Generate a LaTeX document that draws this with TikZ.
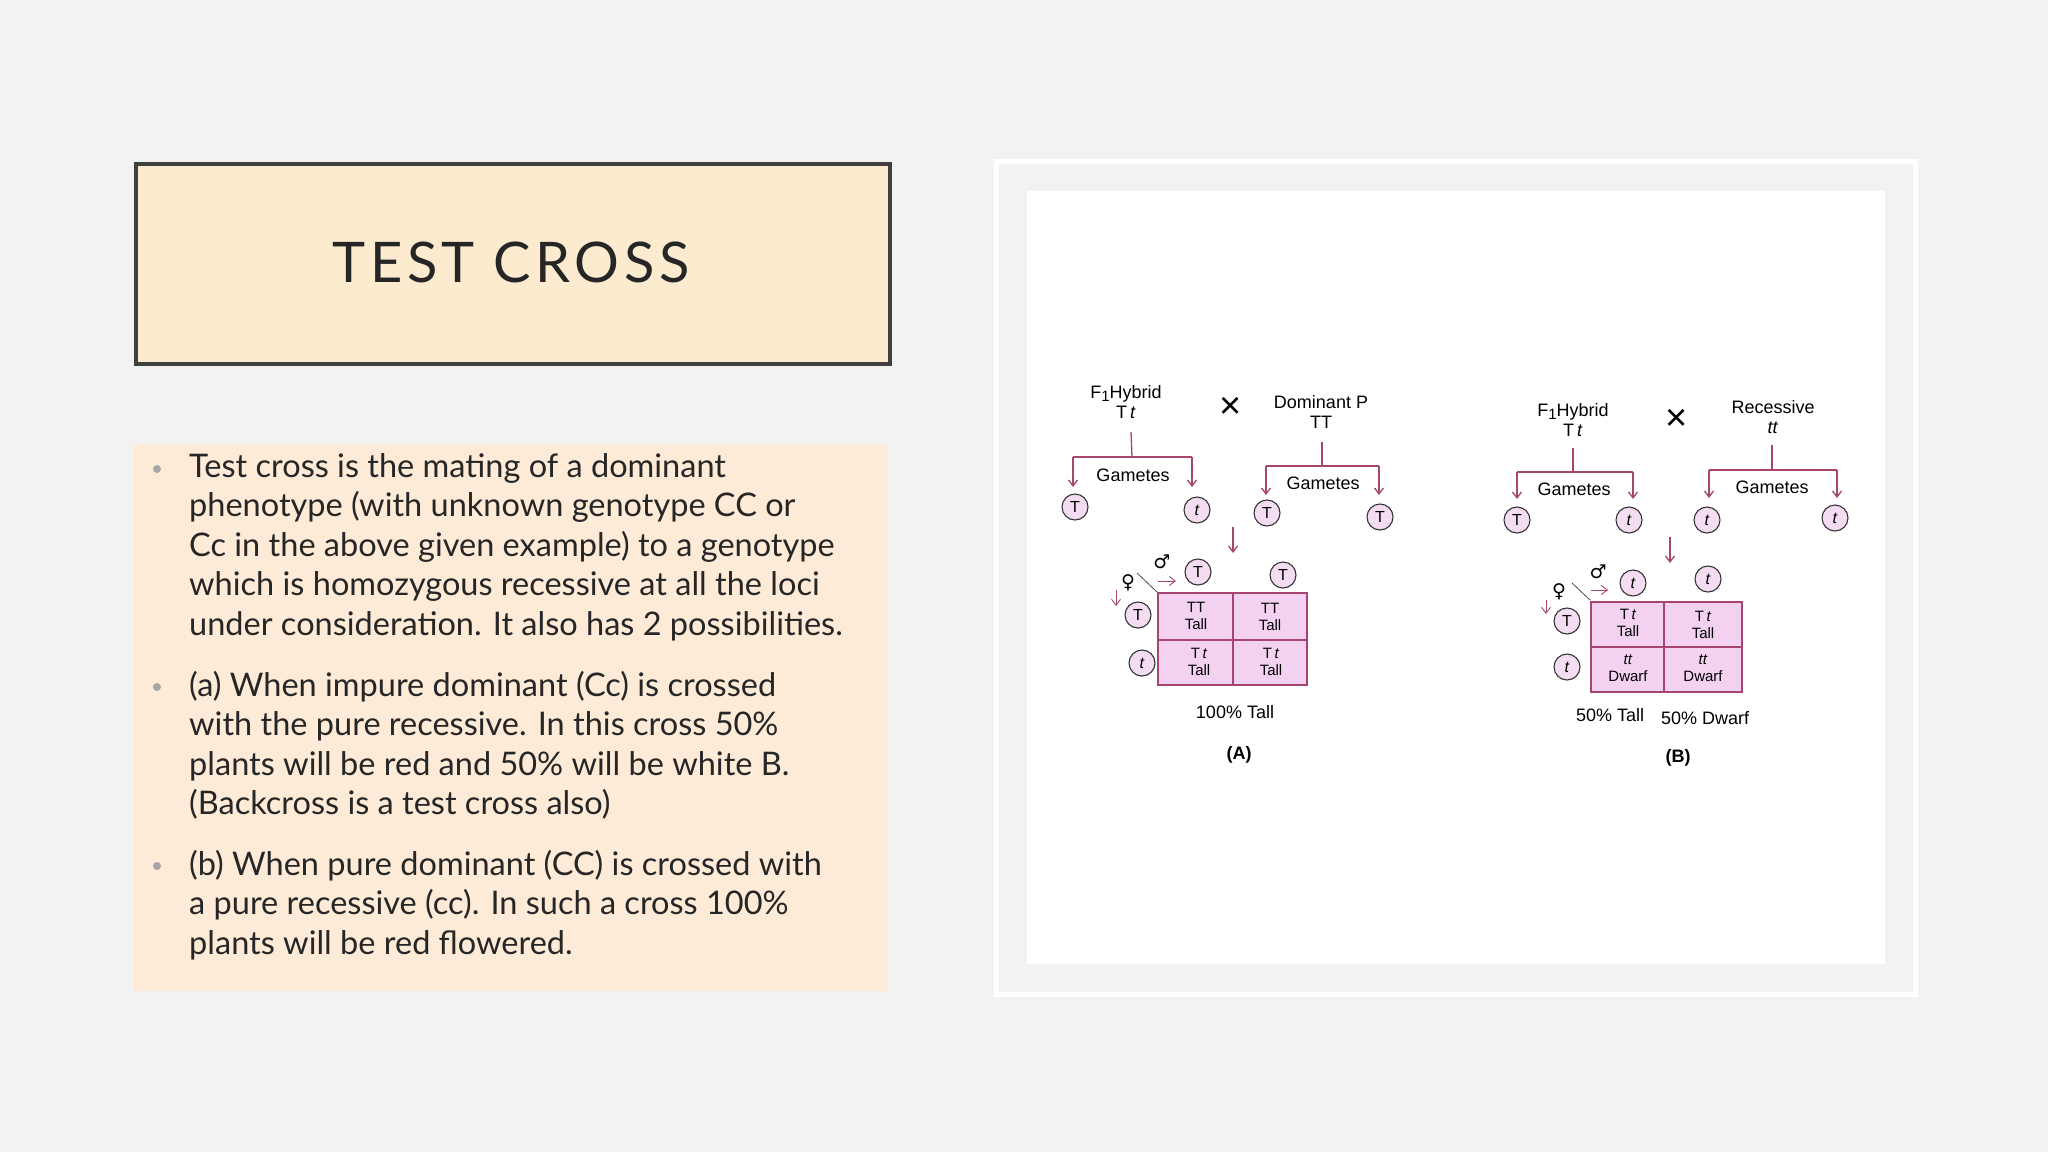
\documentclass[tikz,border=0pt]{standalone}
\usepackage{fontspec}
\setmainfont{Lato}
\newfontfamily\diafont{Liberation Sans}
\newfontfamily\symfont{DejaVu Sans}
\usetikzlibrary{arrows.meta}
\definecolor{bg}{HTML}{F2F2F2}
\definecolor{titlefill}{HTML}{FCEBCF}
\definecolor{textfill}{HTML}{FDEBD8}
\definecolor{mar}{HTML}{A8456F}
\definecolor{cellfill}{HTML}{F2D2F0}
\definecolor{gamfill}{HTML}{F4DDF2}
\tikzset{
  x=1pt,y=-1pt,
  gam/.style={circle,draw=black!80,fill=gamfill,line width=1.1pt,minimum size=26pt,inner sep=0pt,font=\diafont\fontsize{16}{16}\selectfont},
  lnk/.style={draw=mar,line width=1.3pt},
  arr/.style={draw=mar,line width=1.3pt,-{Straight Barb[length=6pt,width=9pt]}},
  lbl/.style={font=\diafont\fontsize{18}{20}\selectfont,align=center,inner sep=0pt},
  cell/.style={font=\diafont\fontsize{15}{17}\selectfont,align=center,inner sep=0pt},
  btxt/.style={anchor=north west,align=left,inner sep=0pt,font=\fontsize{32.5}{39.5}\selectfont,text=black!85},
  bul/.style={circle,fill=black!35,inner sep=0pt,minimum size=8pt},
  xs/.style={font=\diafont\fontsize{38}{38}\selectfont,inner sep=0pt}
}
\newcommand{\Fone}{F\raisebox{-0.35ex}{\fontsize{15}{15}\selectfont 1}}
\begin{document}
\begin{tikzpicture}
\fill[bg] (0,0) rectangle (2048,1152);
\useasboundingbox (0,0) rectangle (2048,1152);
% title
\node[draw=black!75,fill=titlefill,line width=4pt,minimum width=754pt,minimum height=200pt,anchor=north west] (title) at (134,162) {};
\node[font=\fontsize{56}{56}\selectfont\addfontfeatures{LetterSpace=8},text=black!85] at (511,262) {TEST CROSS};
% text box
\node[fill=textfill,minimum width=754pt,minimum height=547pt,anchor=north west] (tb) at (134,444) {};
\node[bul] (b1) at (157,469) {};
\node[bul] (b2) at (157,687) {};
\node[bul] (b3) at (157,866) {};
\node[btxt] (t1) at (189,453) {Test cross is the mating of a dominant\\phenotype (with unknown genotype CC or\\Cc in the above given example) to a genotype\\which is homozygous recessive at all the loci\\under consideration. It also has 2 possibilities.};
\node[btxt] (t2) at (189,671) {(a) When impure dominant (Cc) is crossed\\with the pure recessive. In this cross 50\%\\plants will be red and 50\% will be white B.\\(Backcross is a test cross also)};
\node[btxt] (t3) at (189,850) {(b) When pure dominant (CC) is crossed with\\a pure recessive (cc). In such a cross 100\%\\plants will be red flowered.};
% picture frame
\draw[white,line width=5pt] (996,161) rectangle (1915,994);
\fill[white] (1027,191) rectangle (1885,964);
% ---------- (A)
\node[lbl] (a1) at (1126,402) {\Fone Hybrid\\T\,\textit{t}};
\node[xs] (ax) at (1231,408) {×};
\node[lbl] (a2) at (1321,412) {Dominant P\\TT};
\coordinate (a1b) at (1131,432);
\coordinate (a1j) at (1132,457);
\draw[lnk] (a1b) -- (a1j);
\coordinate (a1l) at (1073,457); \coordinate (a1r) at (1192,457);
\draw[lnk] (a1l) -- (a1r);
\node[gam] (ag1) at (1075,507) {T};
\node[gam] (ag2) at (1197,510) {\textit{t}};
\draw[arr] (a1l) -- ++(0,30);
\draw[arr] (a1r) -- ++(0,30);
\node[lbl] at (1133,475) {Gametes};
\coordinate (a2b) at (1322,442); \coordinate (a2j) at (1322,466);
\draw[lnk] (a2b) -- (a2j);
\coordinate (a2l) at (1266,466); \coordinate (a2r) at (1379,466);
\draw[lnk] (a2l) -- (a2r);
\draw[arr] (a2l) -- ++(0,29);
\draw[arr] (a2r) -- ++(0,29);
\node[lbl] at (1323,483) {Gametes};
\node[gam] (ag3) at (1267,513) {T};
\node[gam] (ag4) at (1380,517) {T};
\coordinate (ad1) at (1233,527); \coordinate (ad2) at (1233,553);
\draw[arr] (ad1) -- (ad2);
% grid A
\draw[mar,fill=cellfill,line width=1.3pt] (1158,593) rectangle (1307,685);
\draw[mar,line width=1.3pt] (1233,593) -- (1233,685) (1158,640) -- (1307,640);
\node[font=\symfont\fontsize{19}{19}\selectfont] (am) at (1162,562) {♂};
\node[font=\symfont\fontsize{19}{19}\selectfont] (af) at (1128,583) {♀};
\draw[arr,line width=0.9pt] (1158,581) -- (1176,581);
\draw[arr,line width=0.9pt] (1116,590) -- (1116,606);
\draw[black!70,line width=0.8pt] (1137,573) -- (1157,592);
\node[gam] (ac1) at (1198,572) {T};
\node[gam] (ac2) at (1283,575) {T};
\node[gam] (ar1) at (1138,615) {T};
\node[gam] (ar2) at (1142,663) {\textit{t}};
\node[cell] at (1196,616) {TT\\Tall};
\node[cell] at (1270,617) {TT\\Tall};
\node[cell] at (1199,662) {T\,\textit{t}\\Tall};
\node[cell] at (1271,662) {T\,\textit{t}\\Tall};
\node[lbl] at (1235,712) {100\% Tall};
\node[lbl,font=\diafont\bfseries\fontsize{18}{20}\selectfont] at (1239,755) {(A)};
% ---------- (B)
\node[lbl] (b1n) at (1573,420) {\Fone Hybrid\\T\,\textit{t}};
\node[xs] (bx) at (1677,420) {×};
\node[lbl] (b2n) at (1773,417) {Recessive\\\textit{tt}};
\coordinate (b1b) at (1573,448); \coordinate (b1j) at (1573,472);
\draw[lnk] (b1b) -- (b1j);
\coordinate (b1l) at (1517,472); \coordinate (b1r) at (1633,472);
\draw[lnk] (b1l) -- (b1r);
\draw[arr] (b1l) -- ++(0,27);
\draw[arr] (b1r) -- ++(0,27);
\node[lbl] at (1574,489) {Gametes};
\node[gam] (bg1) at (1517,520) {T};
\node[gam] (bg2) at (1629,520) {\textit{t}};
\coordinate (b2b) at (1772,445); \coordinate (b2j) at (1772,470);
\draw[lnk] (b2b) -- (b2j);
\coordinate (b2l) at (1709,470); \coordinate (b2r) at (1837,470);
\draw[lnk] (b2l) -- (b2r);
\draw[arr] (b2l) -- ++(0,28);
\draw[arr] (b2r) -- ++(0,28);
\node[lbl] at (1772,487) {Gametes};
\node[gam] (bg3) at (1707,520) {\textit{t}};
\node[gam] (bg4) at (1835,518) {\textit{t}};
\coordinate (bd1) at (1670,537); \coordinate (bd2) at (1670,563);
\draw[arr] (bd1) -- (bd2);
% grid B
\draw[mar,fill=cellfill,line width=1.3pt] (1591,602) rectangle (1742,692);
\draw[mar,line width=1.3pt] (1664,602) -- (1664,692) (1591,647) -- (1742,647);
\node[font=\symfont\fontsize{19}{19}\selectfont] (bm) at (1598,572) {♂};
\node[font=\symfont\fontsize{19}{19}\selectfont] (bf) at (1559,592) {♀};
\draw[arr,line width=0.9pt] (1591,590) -- (1608,590);
\draw[arr,line width=0.9pt] (1546,600) -- (1546,614);
\draw[black!70,line width=0.8pt] (1572,583) -- (1590,600);
\node[gam] (bc1) at (1633,583) {\textit{t}};
\node[gam] (bc2) at (1708,579) {\textit{t}};
\node[gam] (br1) at (1567,621) {T};
\node[gam] (br2) at (1567,667) {\textit{t}};
\node[cell] at (1628,623) {T\,\textit{t}\\Tall};
\node[cell] at (1703,625) {T\,\textit{t}\\Tall};
\node[cell] at (1628,668) {\textit{tt}\\Dwarf};
\node[cell] at (1703,668) {\textit{tt}\\Dwarf};
\node[lbl] at (1610,715) {50\% Tall};
\node[lbl] at (1705,718) {50\% Dwarf};
\node[lbl,font=\diafont\bfseries\fontsize{18}{20}\selectfont] at (1678,758) {(B)};
\end{tikzpicture}
\end{document}
